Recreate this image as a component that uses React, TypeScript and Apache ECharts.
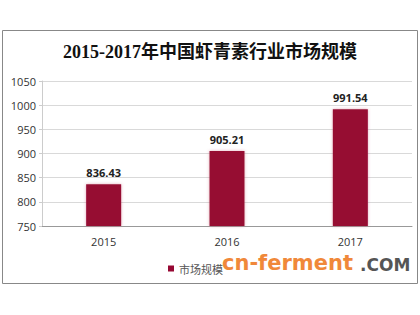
import React, { useEffect, useRef } from "react";
import * as echarts from "echarts";

const categories = ["2015", "2016", "2017"];
const values = [836.43, 905.21, 991.54];
const seriesName = "市场规模";
const titleText = "2015-2017年中国虾青素行业市场规模";

export default function App() {
  const ref = useRef<HTMLDivElement>(null);
  useEffect(() => {
    document.body.style.margin = "0";
    const chart = echarts.init(ref.current!, null, { renderer: "svg" });
    chart.setOption({
      animation: false,
      backgroundColor: "#ffffff",
      title: {
        text: titleText,
        left: "center",
        top: 38,
        textStyle: {
          fontFamily: "'Liberation Serif', 'Noto Sans CJK SC', serif",
          fontWeight: "bold",
          fontSize: 18,
          color: "#111",
        },
      },
      grid: { left: 42, right: 8, top: 81, bottom: 89 },
      legend: {
        data: [seriesName],
        left: 163,
        top: 258,
        itemWidth: 6,
        itemHeight: 6,
        itemGap: 4,
        icon: "rect",
        textStyle: { fontFamily: "'Noto Sans CJK SC', sans-serif", fontSize: 11, color: "#555" },
      },
      xAxis: {
        type: "category",
        data: categories,
        axisLine: { lineStyle: { color: "#999" } },
        axisTick: { alignWithLabel: false, lineStyle: { color: "#999" }, length: 4 },
        axisLabel: { color: "#333", fontSize: 11, fontFamily: "'Open Sans', sans-serif", margin: 10 },
      },
      yAxis: {
        type: "value",
        min: 750,
        max: 1050,
        interval: 50,
        axisLine: { show: true, lineStyle: { color: "#ccc" } },
        axisTick: { show: true, length: 3, lineStyle: { color: "#ccc" } },
        axisLabel: {
          color: "#333",
          fontSize: 11,
          fontFamily: "'Open Sans', sans-serif",
          margin: 6,
          formatter: (v: number) => String(v),
        },
        splitLine: { lineStyle: { color: "#d9d9d9" } },
      },
      series: [
        {
          name: seriesName,
          type: "bar",
          data: values,
          barWidth: 35,
          itemStyle: {
            color: "#960833",
            shadowBlur: 3,
            shadowColor: "rgba(200,80,110,0.5)",
          },
          label: {
            show: true,
            position: "top",
            distance: 6,
            formatter: (p: any) => p.value.toFixed(2),
            fontWeight: "bold",
            fontSize: 11,
            color: "#222",
            fontFamily: "'Open Sans', sans-serif",
          },
        },
      ],
      graphic: [
        {
          type: "rect",
          shape: { x: 2.5, y: 30.5, width: 415, height: 253 },
          style: { fill: "none", stroke: "#888", lineWidth: 1 },
          silent: true,
        },
        {
          type: "text",
          left: 222,
          top: 252,
          style: {
            text: "cn-ferment",
            fill: "#f0883a",
            font: "bold 21px 'DejaVu Sans', sans-serif",
          },
          silent: true,
        },
        {
          type: "text",
          left: 360,
          top: 256,
          style: {
            text: ".COM",
            fill: "#555",
            font: "bold 17px 'DejaVu Sans', sans-serif",
          },
          silent: true,
        },
      ],
    });
    return () => chart.dispose();
  }, []);
  return <div ref={ref} style={{ width: 420, height: 315 }} />;
}
